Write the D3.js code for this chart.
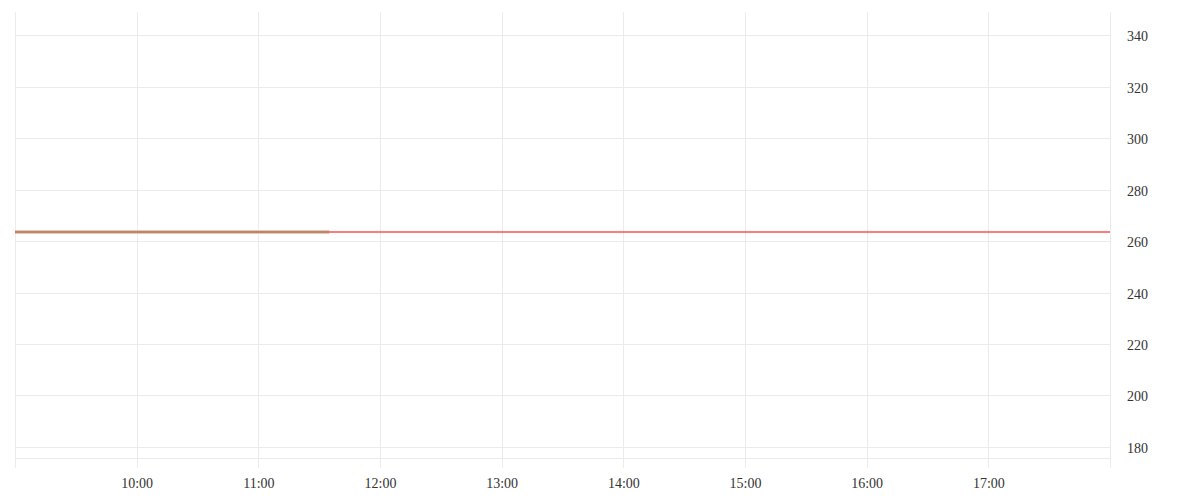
<!DOCTYPE html>
<html>
<head>
<meta charset="utf-8">
<script src="https://cdn.jsdelivr.net/npm/d3@7"></script>
<style>
  body { margin: 0; background: #fff; }
  text { font-family: "Liberation Serif", serif; font-size: 14px; fill: #333; }
</style>
</head>
<body>
<div id="chart"></div>
<script>
// price series (flat so far), reference close and axis ticks
var priceTimes = ["09:00", "09:30", "10:00", "10:30", "11:00", "11:30", "11:35"];
var priceValues = [263.5, 263.5, 263.5, 263.5, 263.5, 263.5, 263.5];
var refValue = 263.5;
var dayStart = "09:00";
var dayEnd = "18:00";
var yTicks = [180, 200, 220, 240, 260, 280, 300, 320, 340];
var xTicks = ["09:00", "10:00", "11:00", "12:00", "13:00", "14:00", "15:00", "16:00", "17:00", "18:00"];
var yDomain = [175.7, 349];

var width = 1200, height = 500;
// note: "top" is taken by window.top, so use plotTop etc.
var plotLeft = 15, plotRight = 1110, plotTop = 12, plotBottom = 458;
var parseTime = d3.timeParse("%H:%M");

var svg = d3.select("#chart").append("svg")
	.attr("width", width)
	.attr("height", height);

var x = d3.scaleTime()
	.domain([parseTime(dayStart), parseTime(dayEnd)])
	.range([plotLeft, plotRight]);
var y = d3.scaleLinear()
	.domain(yDomain)
	.range([plotBottom, plotTop]);

// vertical grid, also serving as tick marks below the plot
svg.append("g").selectAll("line")
	.data(xTicks)
	.enter().append("line")
	.attr("x1", function(d){ return Math.round(x(parseTime(d))) + 0.5; })
	.attr("x2", function(d){ return Math.round(x(parseTime(d))) + 0.5; })
	.attr("y1", plotTop)
	.attr("y2", plotBottom + 10)
	.attr("stroke", "#ebebeb")
	.attr("stroke-width", 1);

// horizontal grid
svg.append("g").selectAll("line")
	.data(yTicks)
	.enter().append("line")
	.attr("x1", plotLeft)
	.attr("x2", plotRight)
	.attr("y1", function(d){ return Math.round(y(d)) + 0.5; })
	.attr("y2", function(d){ return Math.round(y(d)) + 0.5; })
	.attr("stroke", "#ebebeb")
	.attr("stroke-width", 1);

// bottom edge
svg.append("line")
	.attr("x1", plotLeft).attr("x2", plotRight)
	.attr("y1", plotBottom + 0.5).attr("y2", plotBottom + 0.5)
	.attr("stroke", "#ebebeb");

// x axis labels (no label at the edges)
var xAxis = d3.axisBottom(x)
	.tickValues(xTicks.slice(1, -1).map(parseTime))
	.tickFormat(d3.timeFormat("%H:%M"))
	.tickSize(0)
	.tickPadding(0);
var gx = svg.append("g")
	.attr("transform", "translate(0," + (plotBottom + 20) + ")")
	.call(xAxis);
gx.select(".domain").remove();
gx.selectAll("text")
	.attr("dy", "0.71em")
	.style("font-family", "Liberation Serif, serif")
	.style("font-size", "14px")
	.attr("fill", "#333");

// y axis labels on the right
var yAxis = d3.axisRight(y)
	.tickValues(yTicks)
	.tickSize(0)
	.tickPadding(17);
var gy = svg.append("g")
	.attr("transform", "translate(" + plotRight + ",1)")
	.call(yAxis);
gy.select(".domain").remove();
gy.selectAll("text")
	.style("font-family", "Liberation Serif, serif")
	.style("font-size", "14px")
	.attr("fill", "#333");

// price line
var line = d3.line()
	.x(function(d, i){ return x(parseTime(priceTimes[i])); })
	.y(function(d){ return y(d); });

svg.append("path")
	.datum(priceValues)
	.attr("d", line)
	.attr("fill", "none")
	.attr("stroke", "#9fd3a4")
	.attr("stroke-width", 3.5);

// reference line across the day
svg.append("line")
	.attr("x1", x(parseTime(dayStart)))
	.attr("x2", x(parseTime(dayEnd)))
	.attr("y1", y(refValue))
	.attr("y2", y(refValue))
	.attr("stroke", "#ff4f55")
	.attr("stroke-width", 1.5);
</script>
</body>
</html>
